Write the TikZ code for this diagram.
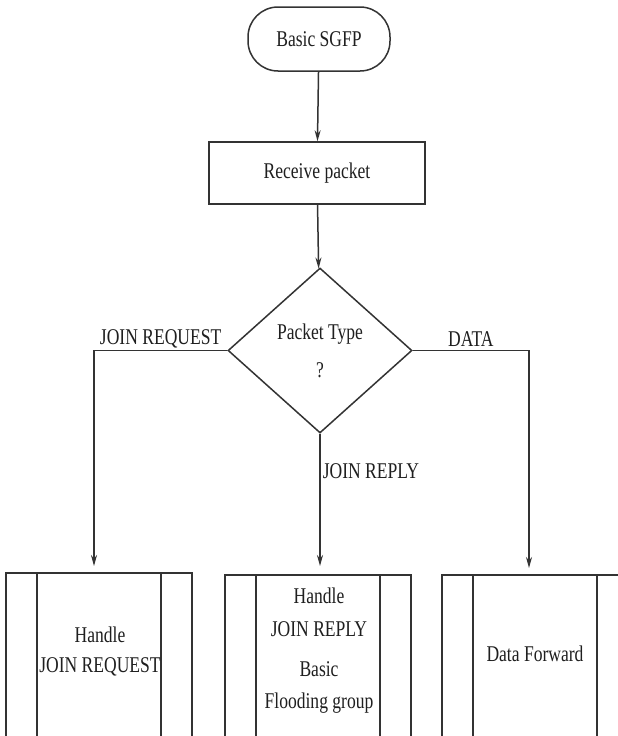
\documentclass[tikz,border=0pt]{standalone}
\usepackage{fontspec}
\setmainfont{Liberation Serif}[FakeStretch=0.78]
\usetikzlibrary{shapes.geometric,arrows.meta}

\tikzset{
  ink/.style={draw=black!80, line width=1.5pt},
  term/.style={ink, rounded corners=30pt, minimum width=142pt, minimum height=64pt, inner sep=0pt},
  procbox/.style={ink, minimum width=216pt, minimum height=62pt, inner sep=0pt},
  decision/.style={ink, diamond, minimum width=184pt, minimum height=165pt, inner sep=0pt, align=center},
  subproc/.style={ink, minimum width=186pt, minimum height=240pt, anchor=north, inner sep=0pt,
    path picture={
      \draw[black!80, line width=1.5pt]
        ([xshift=31pt]path picture bounding box.north west) --
        ([xshift=31pt]path picture bounding box.south west);
      \draw[black!80, line width=1.5pt]
        ([xshift=-31pt]path picture bounding box.north east) --
        ([xshift=-31pt]path picture bounding box.south east);
    }},
  flow/.style={draw=black!80, line width=1.5pt, -{Stealth[length=11pt,width=6pt]}},
  lbl/.style={text=black!88, inner sep=2pt},
  boxtext/.style={text=black!88, align=center, inner sep=0pt},
}

\begin{document}
\begin{tikzpicture}[x=1pt, y=-1pt, font=\fontsize{22.5}{30}\selectfont, text=black!88]
  \useasboundingbox (0,0) rectangle (618,736);
  \fill[white] (0,0) rectangle (618,736);
  \clip (0,0) rectangle (618,736);

  % main column
  \node[term] (start) at (319,39) {Basic SGFP};
  \node[procbox] (recv) at (317,173) {Receive packet};
  \node[decision] (type) at (320,350.5) {Packet Type\\[8pt]?};

  % handler boxes (they run past the lower edge)
  \node[subproc] (jreq) at (99,572) {};
  \node[subproc] (jrep) at (318,574) {};
  \node[subproc] (dfwd) at (535,574) {};

  \node[boxtext] (jreqtxt) at (100,652) {Handle\\JOIN REQUEST};
  \node[boxtext] (jreptxt) at (319,651) {Handle\\[3pt]JOIN REPLY\\[10pt]Basic\\[2pt]Flooding group};
  \node[boxtext] (dfwdtxt) at (535,654) {Data Forward};

  % connectors
  \draw[flow] (start) -- (recv);
  \draw[flow] (recv) -- (type);
  \draw[flow, shorten >=6pt] (type.west) -| node[lbl, pos=0.25, above] {JOIN REQUEST} ([xshift=-5pt]jreq.north);
  \draw[flow, shorten >=6pt] (type.east) -| node[lbl, pos=0.25, above, yshift=1pt] {DATA} ([xshift=-6pt]dfwd.north);
  \draw[flow, shorten >=8pt] (type.south) -- node[lbl, pos=0.27, right] {JOIN REPLY} (type.south |- jrep.north);
\end{tikzpicture}
\end{document}
